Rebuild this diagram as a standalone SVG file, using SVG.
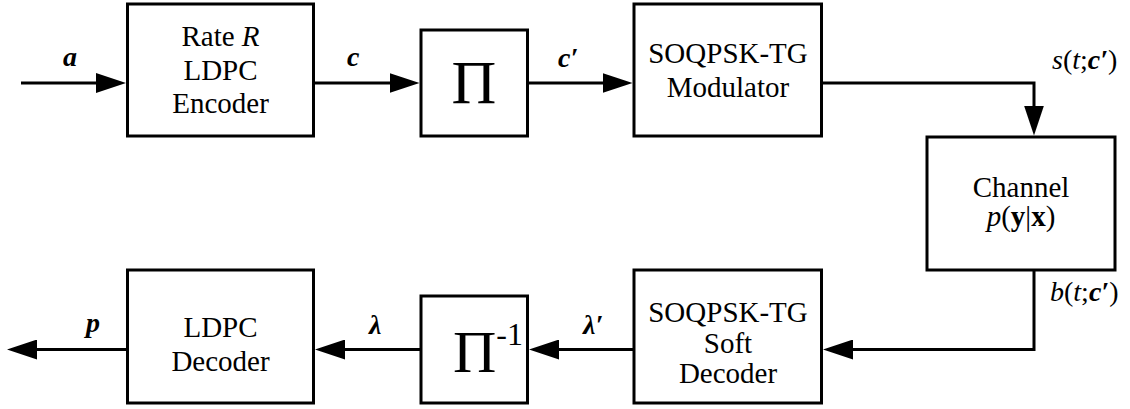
<svg xmlns="http://www.w3.org/2000/svg" width="1130" height="409" viewBox="0 0 1130 409" font-family="'Liberation Serif', 'Times New Roman', serif">
<defs>
<style>
.box{fill:#fff;stroke:#000;stroke-width:3}
.t{font-family:'Liberation Serif','Times New Roman',serif;font-size:29px;fill:#000;text-anchor:middle}
.lbl{font-family:'Liberation Serif','Times New Roman',serif;font-size:28px;font-weight:bold;font-style:italic;fill:#000}
.sig{font-family:'Liberation Serif','Times New Roman',serif;font-size:28px;fill:#000}
.conn path{fill:none;stroke:#000;stroke-width:3;stroke-linejoin:miter}
.i{font-style:italic}
.b{font-weight:bold}
.bi{font-weight:bold;font-style:italic}
</style>
<marker id="arr" markerUnits="userSpaceOnUse" markerWidth="30" markerHeight="20" viewBox="0 0 30 20" refX="20" refY="10" orient="auto">
<path d="M0,0 L30,10 L0,20 Z" fill="#000"/>
</marker>
</defs>
<rect width="1130" height="409" fill="#fff"/>

<g id="connectors" class="conn">
<path d="M21,83 H116" marker-end="url(#arr)"/>
<path d="M313.5,83 H409.5" marker-end="url(#arr)"/>
<path d="M527.5,83 H622.5" marker-end="url(#arr)"/>
<path d="M821.5,83 H1034 V125.5" marker-end="url(#arr)"/>
<path d="M1034,270 V349.5 H833" marker-end="url(#arr)"/>
<path d="M634,349.5 H539" marker-end="url(#arr)"/>
<path d="M421,349.5 H325" marker-end="url(#arr)"/>
<path d="M127.5,349.5 H17" marker-end="url(#arr)"/>
</g>

<g id="encoder">
<rect class="box" x="127.5" y="4" width="186" height="132"/>
<text class="t" x="220.5" y="46">Rate <tspan class="i">R</tspan></text>
<text class="t" x="220.5" y="80">LDPC</text>
<text class="t" x="220.5" y="113">Encoder</text>
</g>

<g id="interleaver">
<rect class="box" x="421" y="30" width="106.5" height="106"/>
<text class="t" x="474" y="103" style="font-size:62px">Π</text>
</g>

<g id="modulator">
<rect class="box" x="634" y="4" width="187.5" height="132"/>
<text class="t" x="728" y="63">SOQPSK-TG</text>
<text class="t" x="728" y="97">Modulator</text>
</g>

<g id="channel">
<rect class="box" x="927" y="137" width="188" height="133"/>
<text class="t" x="1021" y="197">Channel</text>
<text class="t" x="1021" y="226"><tspan class="i">p</tspan>(<tspan class="b">y</tspan>|<tspan class="b">x</tspan>)</text>
</g>

<g id="soft-decoder">
<rect class="box" x="634" y="270" width="187.5" height="133"/>
<text class="t" x="728" y="322">SOQPSK-TG</text>
<text class="t" x="728" y="353">Soft</text>
<text class="t" x="728" y="383">Decoder</text>
</g>

<g id="deinterleaver">
<rect class="box" x="421" y="296" width="106.5" height="107"/>
<text class="t" x="453" y="372" style="font-size:60px;text-anchor:start">Π<tspan dy="-27" style="font-size:32px">-1</tspan></text>
</g>

<g id="ldpc-decoder">
<rect class="box" x="127.5" y="270" width="186" height="133"/>
<text class="t" x="220.5" y="337">LDPC</text>
<text class="t" x="220.5" y="371">Decoder</text>
</g>

<g id="labels">
<text class="lbl" x="63" y="66">a</text>
<text class="lbl" x="347" y="66">c</text>
<text class="lbl" x="558" y="67">c′</text>
<text class="sig" x="1052" y="69"><tspan class="i">s</tspan>(<tspan class="i">t</tspan>;<tspan class="bi">c′</tspan>)</text>
<text class="sig" x="1050" y="301"><tspan class="i">b</tspan>(<tspan class="i">t</tspan>;<tspan class="bi">c′</tspan>)</text>
<text class="lbl" x="86" y="332">p</text>
<text class="lbl" x="369" y="334">λ</text>
<text class="lbl" x="583" y="334">λ′</text>
</g>
</svg>
